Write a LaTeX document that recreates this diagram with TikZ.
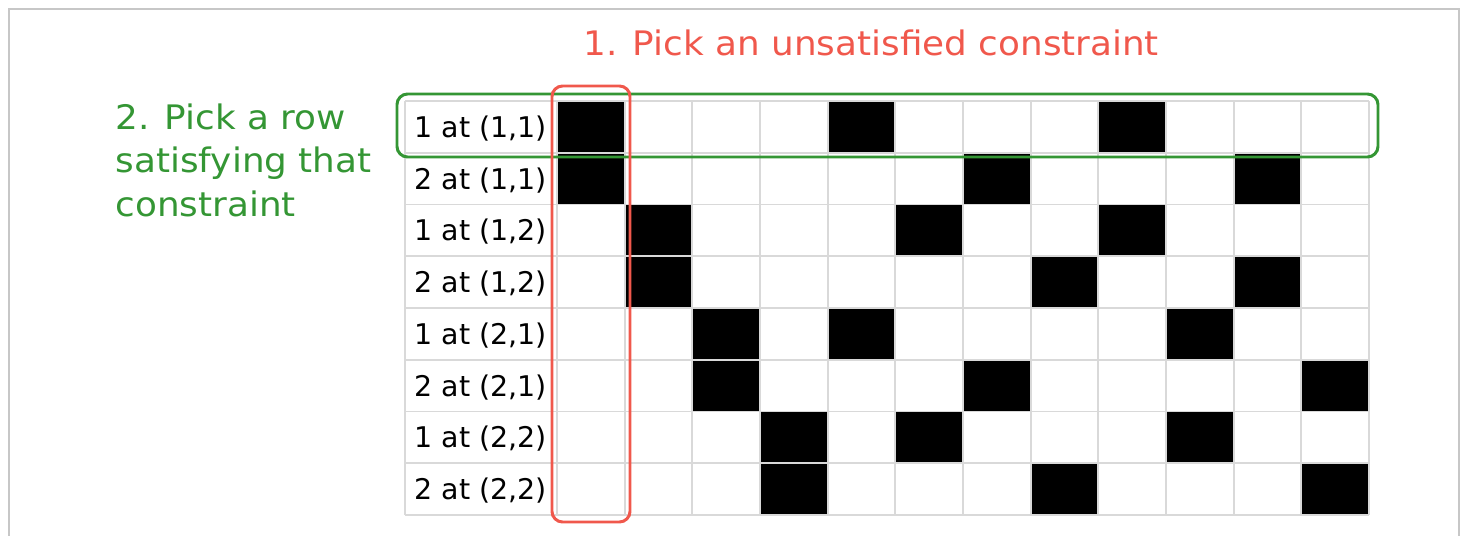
\documentclass[tikz,border=0pt]{standalone}
\usepackage{fontspec}
\setmainfont{DejaVu Sans}
\newfontfamily\notefont[FakeStretch=1.06]{DejaVu Sans}
\definecolor{pickred}{RGB}{240,88,76}
\definecolor{pickgreen}{RGB}{52,150,52}

\begin{document}
\begin{tikzpicture}[x=0.01cm, y=-0.01cm, every node/.style={font=\fontsize{8.1}{10}\selectfont, inner sep=0pt}, gridline/.style={draw=black!15, line width=0.55pt}, note/.style={font=\notefont\fontsize{9.6}{12.35}\selectfont, align=left, inner sep=0pt}]
	\useasboundingbox (0,0) rectangle (1462,536);
	\draw[black!22, line width=0.6pt] (9,540) -- (9,9) -- (1459,9) -- (1459,540);
	% filled cells of the cover matrix
	\foreach \r/\cols in {1/{1,5,9}, 2/{1,7,11}, 3/{2,6,9}, 4/{2,8,11}, 5/{3,5,10}, 6/{3,7,12}, 7/{4,6,10}, 8/{4,8,12}} {
		\foreach \c in \cols {\fill (557+67.67*\c-67.67, 101+51.75*\r-51.75) rectangle ++(67.67,51.75);}
	}
	\foreach \k in {0,...,8} {\draw[gridline] (405,101+51.75*\k) -- (1369,101+51.75*\k);}
	\draw[gridline] (405,101) -- (405,515);
	\foreach \k in {0,...,12} {\draw[gridline] (557+67.67*\k,101) -- (557+67.67*\k,515);}
	\foreach \r/\t in {1/{1 at (1,1)}, 2/{2 at (1,1)}, 3/{1 at (1,2)}, 4/{2 at (1,2)}, 5/{1 at (2,1)}, 6/{2 at (2,1)}, 7/{1 at (2,2)}, 8/{2 at (2,2)}} {
		\node[anchor=base west] (lab\r) at (414, 101+51.75*\r-15.5) {\t};
	}
	\draw[pickgreen, line width=0.85pt, rounded corners=3pt] (397,94) rectangle (1378,157);
	\draw[pickred, line width=0.85pt, rounded corners=3pt] (552,86) rectangle (630,522);
	\node[note, pickred, anchor=base west] (pick1) at (583,55) {1. Pick an unsatisfied constraint};
	\node[note, pickgreen, anchor=base west] (pick2) at (115,216) {2. Pick a row\\satisfying that\\constraint};
\end{tikzpicture}
\end{document}
